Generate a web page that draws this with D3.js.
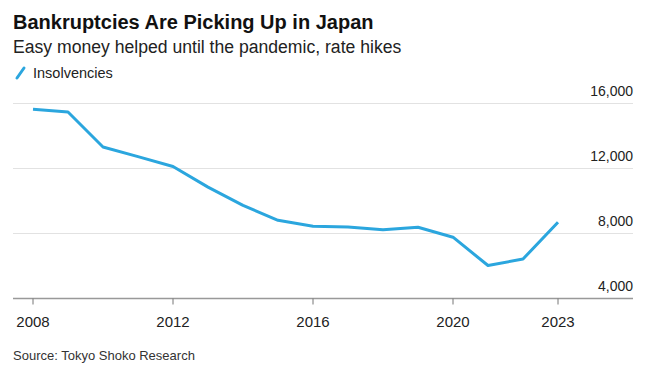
<!DOCTYPE html>
<html>
<head>
<meta charset="utf-8">
<script src="https://cdn.jsdelivr.net/npm/d3@7"></script>
<style>
  body { margin: 0; background: #fff; }
  svg { display: block; font-family: "Liberation Sans", Arial, sans-serif; }
</style>
</head>
<body>
<div id="chart"></div>
<script>
// Annual insolvencies in Japan (Tokyo Shoko Research)
const years = [2008, 2009, 2010, 2011, 2012, 2013, 2014, 2015, 2016, 2017, 2018, 2019, 2020, 2021, 2022, 2023];
const insolvencies = [15646, 15480, 13321, 12734, 12124, 10855, 9731, 8812, 8446, 8405, 8235, 8383, 7773, 6030, 6428, 8690];
const yTicks = [4000, 8000, 12000, 16000];
const xTicks = [2008, 2012, 2016, 2020, 2023];

const width = 654, height = 377;
const svg = d3.select('#chart').append('svg')
  .attr('width', width)
  .attr('height', height);

// scales
const x = d3.scaleLinear().domain([2008, 2023]).range([33, 558]);
const y = d3.scaleLinear().domain([4000, 16000]).range([298.5, 103.5]);
const plotLeft = 13, plotRight = 633;

// title block
svg.append('text')
  .attr('x', 13).attr('y', 29)
  .attr('font-size', 20).attr('font-weight', 'bold')
  .attr('fill', '#111')
  .text('Bankruptcies Are Picking Up in Japan');
svg.append('text')
  .attr('x', 13).attr('y', 53)
  .attr('font-size', 17.6).attr('fill', '#222')
  .text('Easy money helped until the pandemic, rate hikes');

// legend
svg.append('line')
  .attr('x1', 17).attr('y1', 78).attr('x2', 24).attr('y2', 68)
  .attr('stroke', '#2ba6de').attr('stroke-width', 3).attr('stroke-linecap', 'round');
svg.append('text')
  .attr('x', 33).attr('y', 78)
  .attr('font-size', 14.5).attr('fill', '#222')
  .text('Insolvencies');

// gridlines + y labels (on the right, sitting above lines)
const grid = svg.append('g');
grid.selectAll('line')
  .data(yTicks.filter(d => d !== 4000))
  .join('line')
  .attr('x1', plotLeft).attr('x2', plotRight)
  .attr('y1', d => y(d)).attr('y2', d => y(d))
  .attr('stroke', '#e2e2e2').attr('stroke-width', 1);
grid.selectAll('text')
  .data(yTicks)
  .join('text')
  .attr('x', plotRight)
  .attr('y', d => y(d) - 8)
  .attr('text-anchor', 'end')
  .attr('font-size', 14).attr('fill', '#222')
  .text(d => d3.format(',')(d));

// x axis
const xAxis = svg.append('g');
xAxis.append('line')
  .attr('x1', plotLeft).attr('x2', plotRight)
  .attr('y1', y(4000)).attr('y2', y(4000))
  .attr('stroke', '#999').attr('stroke-width', 1.5);
xAxis.selectAll('line.tick')
  .data(xTicks)
  .join('line')
  .attr('class', 'tick')
  .attr('x1', d => x(d)).attr('x2', d => x(d))
  .attr('y1', y(4000)).attr('y2', y(4000) + 6)
  .attr('stroke', '#777').attr('stroke-width', 1);
xAxis.selectAll('text')
  .data(xTicks)
  .join('text')
  .attr('x', d => x(d))
  .attr('y', 327)
  .attr('text-anchor', 'middle')
  .attr('font-size', 15).attr('fill', '#222')
  .text(d => d);

// the line
const line = d3.line()
  .x((d, i) => x(years[i]))
  .y(d => y(d));
svg.append('path')
  .datum(insolvencies)
  .attr('d', line)
  .attr('fill', 'none')
  .attr('stroke', '#2ba6de')
  .attr('stroke-width', 3)
  .attr('stroke-linejoin', 'round');

// source
svg.append('text')
  .attr('x', 13).attr('y', 360)
  .attr('font-size', 13).attr('fill', '#333')
  .text('Source: Tokyo Shoko Research');
</script>
</body>
</html>
